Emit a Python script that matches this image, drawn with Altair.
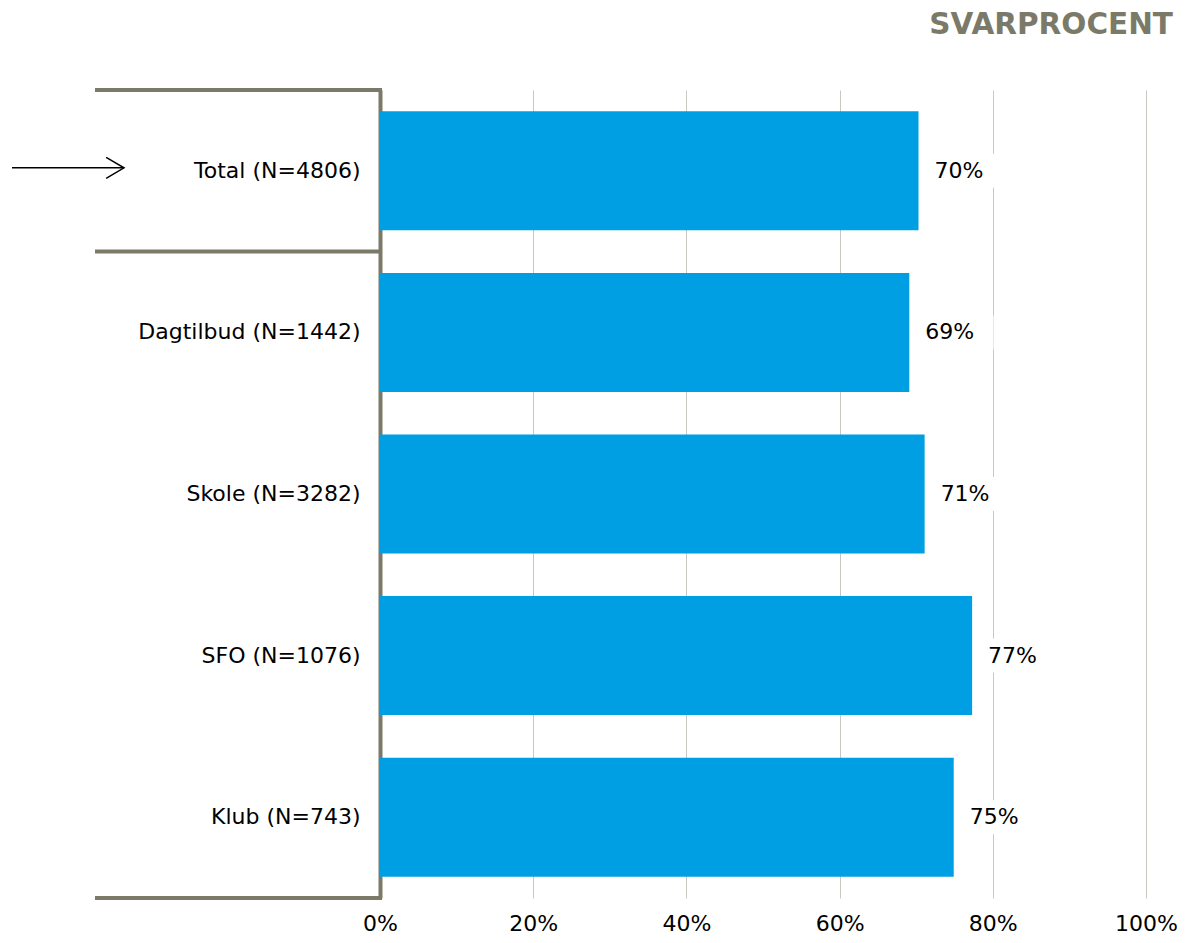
import altair as alt
import pandas as pd

categories = ["Total (N=4806)", "Dagtilbud (N=1442)", "Skole (N=3282)", "SFO (N=1076)", "Klub (N=743)"]
values = [70.3, 69.1, 71.1, 77.3, 74.9]
x_ticks = [0, 20, 40, 60, 80, 100]
title_text = "SVARPROCENT"

df = pd.DataFrame({"cat": categories, "v": values})

GRAY = "#7b7a69"
BLUE = "#009fe3"
FONT = "DejaVu Sans"
W, H = 766, 808
FS = 22

y_axis = alt.Axis(title=None, ticks=False, labelPadding=20, labelFontSize=FS,
                  labelColor="#000000", domainColor=GRAY, domainWidth=4,
                  grid=False, labelLimit=400, labelFont=FONT)
y_scale = alt.Scale(paddingInner=0, paddingOuter=0)


def yenc(**kw):
    return alt.Y("cat:N", sort=categories, scale=y_scale, axis=y_axis, **kw)


x_axis = alt.Axis(values=x_ticks, labelExpr="datum.value + '%'", grid=True,
                  gridColor="#c8c8c0", gridWidth=1, domain=False, ticks=False,
                  labelPadding=15, labelFontSize=FS, labelColor="#000000",
                  labelFont=FONT, labelFlush=False, title=None)
x_scale = alt.Scale(domain=[0, 100], nice=False)


def xenc(field):
    return alt.X(field, scale=x_scale, axis=x_axis)


base = alt.Chart(df)

bars = base.mark_bar(color=BLUE, size=119).encode(x=xenc("v:Q"), y=yenc())

boxes = base.transform_calculate(
    lo="datum.v + 1", hi="datum.v + 11"
).mark_bar(color="white", size=34).encode(
    x=xenc("lo:Q"), x2="hi:Q", y=yenc()
)

labels = base.transform_calculate(
    lab="format(datum.v, '.0f') + '%'"
).mark_text(align="left", baseline="middle", dx=16, fontSize=FS,
            color="#000000", font=FONT).encode(
    x=xenc("v:Q"), y=yenc(), text="lab:N"
)

top_rules = base.transform_filter(
    alt.FieldOneOfPredicate(field="cat", oneOf=categories[:2])
).mark_rule(color=GRAY, strokeWidth=4).encode(
    y=yenc(bandPosition=0), x=alt.value(-285), x2=alt.value(2)
)

bottom_rule = base.transform_filter(
    alt.FieldOneOfPredicate(field="cat", oneOf=categories[-1:])
).mark_rule(color=GRAY, strokeWidth=4).encode(
    y=yenc(bandPosition=1), x=alt.value(-285), x2=alt.value(2)
)

arrow_shaft = base.transform_filter(
    alt.FieldOneOfPredicate(field="cat", oneOf=categories[:1])
).mark_rule(color="#000000", strokeWidth=1.5, yOffset=-3).encode(
    y=yenc(), x=alt.value(-368), x2=alt.value(-256)
)

arrow_head = base.transform_filter(
    alt.FieldOneOfPredicate(field="cat", oneOf=categories[:1])
).mark_point(shape="M -1.7 -1 L 0 0 L -1.7 1", filled=False, stroke="#000000",
             strokeWidth=1.5, size=441, opacity=1, yOffset=-3).encode(
    y=yenc(), x=alt.value(-256)
)

title = alt.Chart(pd.DataFrame({"t": [title_text]})).mark_text(
    align="right", baseline="alphabetic", fontSize=29.5, fontWeight="bold",
    color=GRAY, font=FONT
).encode(x=alt.value(793), y=alt.value(-56), text="t:N")

chart = alt.layer(
    bars, boxes, labels, top_rules, bottom_rule, arrow_shaft, arrow_head, title
).properties(
    width=W, height=H,
    autosize=alt.AutoSizeParams(type="none"),
    padding={"left": 372, "top": 82, "right": 32, "bottom": 37},
).configure(font=FONT).configure_view(stroke=None)

chart.save("out.html", embed_options={"renderer": "svg", "actions": False})
